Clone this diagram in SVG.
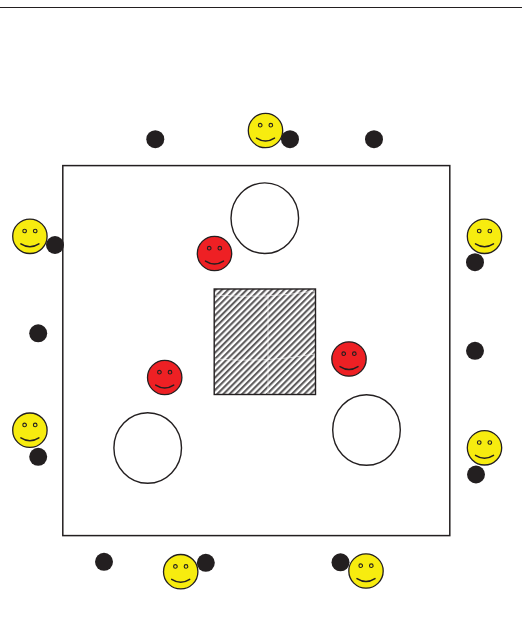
<svg xmlns="http://www.w3.org/2000/svg" width="522" height="642" viewBox="0 0 522 642">
<style>
.o{fill:#fff;stroke:#231f20;stroke-width:1.4}
.d{fill:#231f20}
.f{stroke:#231f20;stroke-width:1.3}
.y{fill:#f7ec0f}
.r{fill:#ee2024}
.e{fill:none;stroke:#231f20;stroke-width:1.1}
.m{fill:none;stroke:#231f20;stroke-width:1.5;stroke-linecap:round}
</style>
<defs>
<pattern id="h" width="4.400" height="4.400" patternUnits="userSpaceOnUse" patternTransform="rotate(-45)">
<rect width="4.400" height="4.400" fill="#fff"/>
<rect width="4.400" height="2.100" fill="#5e5c5d"/>
</pattern>
<g id="face">
<circle cx="-5.300" cy="-5.300" r="1.800" class="e"/>
<circle cx="5.300" cy="-5.300" r="1.800" class="e"/>
<path d="M-9 7.600Q0 13.400 9 7.600" class="m"/>
</g>
</defs>
<rect width="522" height="642" fill="#fff"/>
<path d="M0 7.500H522" stroke="#231f20" stroke-width="1"/>
<g id="field"><rect x="62.800" y="165.600" width="387" height="370" fill="#fff" stroke="#231f20" stroke-width="1.500"/></g>
<g id="square"><rect x="214.200" y="289" width="101.300" height="105.500" fill="url(#h)" stroke="#231f20" stroke-width="1.400"/>
<path d="M268 294V394M215 359Q265 363 315 354M215 295Q265 299 315 291" fill="none" stroke="#fff" stroke-width=".8" opacity=".8"/></g>
<g id="circle-top"><ellipse cx="264.800" cy="218.200" rx="33.800" ry="35.300" class="o"/></g>
<g id="circle-left"><ellipse cx="147.700" cy="448" rx="33.800" ry="35.300" class="o"/></g>
<g id="circle-right"><ellipse cx="366.500" cy="430" rx="33.800" ry="35.300" class="o"/></g>
<g id="dot-1"><circle cx="155.300" cy="139.200" r="9" class="d"/></g>
<g id="dot-2"><circle cx="290" cy="139.200" r="9" class="d"/></g>
<g id="dot-3"><circle cx="374" cy="139.200" r="9" class="d"/></g>
<g id="dot-4"><circle cx="55" cy="245" r="9" class="d"/></g>
<g id="dot-5"><circle cx="38.200" cy="333.300" r="9" class="d"/></g>
<g id="dot-6"><circle cx="38.200" cy="456.800" r="9" class="d"/></g>
<g id="dot-7"><circle cx="475" cy="262.200" r="9" class="d"/></g>
<g id="dot-8"><circle cx="475" cy="350.800" r="9" class="d"/></g>
<g id="dot-9"><circle cx="476" cy="474.500" r="9" class="d"/></g>
<g id="dot-10"><circle cx="104" cy="561.800" r="9" class="d"/></g>
<g id="dot-11"><circle cx="205.800" cy="562.800" r="9" class="d"/></g>
<g id="dot-12"><circle cx="340.500" cy="562.300" r="9" class="d"/></g>
<g id="y-top" transform="translate(265.500 130.500)"><circle r="17.200" class="f y"/><use href="#face"/></g>
<g id="y-left-1" transform="translate(29.900 236.300)"><circle r="17.200" class="f y"/><use href="#face"/></g>
<g id="y-left-2" transform="translate(29.900 430.200)"><circle r="17.200" class="f y"/><use href="#face"/></g>
<g id="y-right-1" transform="translate(484.500 236.300)"><circle r="17.200" class="f y"/><use href="#face"/></g>
<g id="y-right-2" transform="translate(484.500 447.800)"><circle r="17.200" class="f y"/><use href="#face"/></g>
<g id="y-bottom-1" transform="translate(180.700 571.700)"><circle r="17.200" class="f y"/><use href="#face"/></g>
<g id="y-bottom-2" transform="translate(366 571)"><circle r="17.200" class="f y"/><use href="#face"/></g>
<g id="r-1" transform="translate(214.500 253.500)"><circle r="17.200" class="f r"/><use href="#face"/></g>
<g id="r-2" transform="translate(164.700 377.500)"><circle r="17.200" class="f r"/><use href="#face"/></g>
<g id="r-3" transform="translate(349 359)"><circle r="17.200" class="f r"/><use href="#face"/></g>
<g id="connectors"></g>
</svg>
